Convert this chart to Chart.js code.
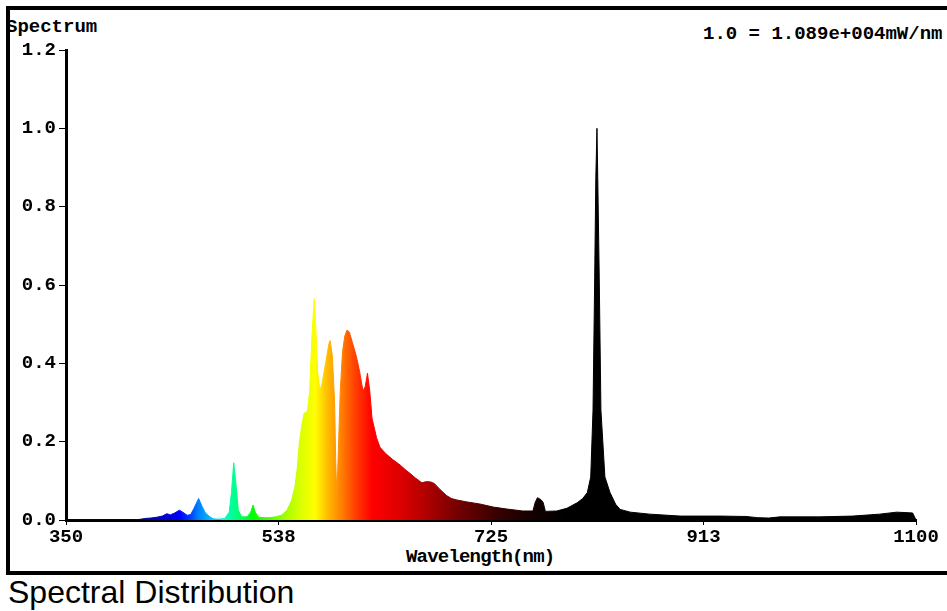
<!DOCTYPE html>
<html>
<head>
<meta charset="utf-8">
<script src="https://cdn.jsdelivr.net/npm/chart.js@4"></script>
<style>
  html, body { margin: 0; padding: 0; background: #fff; width: 947px; height: 611px; overflow: hidden; }
  #frame { position: absolute; left: 6px; top: 6px; width: 980px; height: 561px; border: 4px solid #000; z-index: 3; }
  canvas { position: absolute; left: 0; top: 0; z-index: 2; }
  .mono { position: absolute; font-family: "Liberation Mono", "DejaVu Sans Mono", monospace; font-weight: bold; font-size: 19px; line-height: 19px; color: #000; white-space: nowrap; z-index: 1; }
  #caption { position: absolute; left: 8px; top: 576px; font-family: "Liberation Sans", Arial, sans-serif; font-size: 32px; line-height: 32px; color: #000; white-space: nowrap; }
</style>
</head>
<body>
<div id="frame"></div>
<div class="mono" style="left:6px; top:18px;">Spectrum</div>
<div class="mono" style="left:703px; top:25px;">1.0 = 1.089e+004mW/nm</div>
<div class="mono" style="left:406px; top:548px; letter-spacing:-0.8px;">Wavelength(nm)</div>
<div id="caption">Spectral Distribution</div>
<canvas id="c" width="947" height="611"></canvas>
<script>
// Wavelength (nm) of each sample
const wavelengths = [350, 410, 416, 420, 425, 430, 435, 439, 442, 446, 450, 453, 457, 460, 463, 467, 470, 473, 477, 480, 485, 490, 494, 496, 498, 500, 502, 505, 510, 513, 515, 517, 520, 525, 530, 535, 540, 545, 549, 552, 554, 556, 558, 560, 563, 565, 567, 569, 570, 572, 574, 576, 579, 582, 583, 585, 587, 588, 589, 590, 592, 594, 596, 598, 600, 603, 606, 609, 612, 614, 616, 618, 620, 624, 627, 632, 638, 645, 650, 654, 658, 664, 668, 672, 675, 680, 686, 690, 695, 704, 715, 727, 739, 753, 762, 764, 766, 769, 771, 773, 783, 792, 801, 806, 810, 813, 815, 816.5, 817.5, 818.5, 819.2, 820.5, 822, 825.5, 830, 835, 839, 848, 865, 892, 927, 950, 960, 970, 980, 1015, 1044, 1068, 1083, 1097, 1100];
// Relative intensity (1.0 = 1.089e+004 mW/nm)
const intensities = [0, 0, 0.002, 0.004, 0.005, 0.007, 0.010, 0.016, 0.013, 0.018, 0.025, 0.020, 0.012, 0.014, 0.030, 0.055, 0.035, 0.018, 0.008, 0.003, 0.002, 0.004, 0.020, 0.070, 0.146, 0.090, 0.025, 0.008, 0.008, 0.020, 0.038, 0.020, 0.007, 0.006, 0.006, 0.008, 0.012, 0.025, 0.050, 0.085, 0.130, 0.200, 0.240, 0.272, 0.278, 0.330, 0.470, 0.565, 0.520, 0.380, 0.330, 0.350, 0.400, 0.450, 0.458, 0.420, 0.300, 0.150, 0.060, 0.150, 0.330, 0.430, 0.470, 0.485, 0.480, 0.450, 0.420, 0.380, 0.330, 0.340, 0.375, 0.330, 0.260, 0.210, 0.186, 0.170, 0.155, 0.140, 0.127, 0.118, 0.108, 0.095, 0.098, 0.097, 0.093, 0.078, 0.062, 0.055, 0.051, 0.046, 0.041, 0.033, 0.028, 0.023, 0.023, 0.045, 0.057, 0.052, 0.045, 0.022, 0.023, 0.030, 0.044, 0.055, 0.070, 0.110, 0.280, 0.620, 0.875, 1.000, 0.875, 0.620, 0.280, 0.110, 0.070, 0.040, 0.027, 0.020, 0.015, 0.010, 0.010, 0.009, 0.006, 0.005, 0.008, 0.008, 0.010, 0.015, 0.020, 0.018, 0];
// X tick values and Y tick values
const xTicks = [350, 537.5, 725, 912.5, 1100];
const yTicks = [0, 0.2, 0.4, 0.6, 0.8, 1.0, 1.2];
// Spectral colour stops (wavelength -> colour)
const colorWavelengths = [410, 430, 450, 460, 467, 478, 488, 498, 507, 515, 530, 543, 556, 570, 580, 593, 605, 620, 645, 660, 698, 730, 760, 790];
const colorValues = ['#000080', '#0000c0', '#0000ff', '#0040ff', '#0080ff', '#00c0ff', '#00ffd0', '#00ff90', '#00ff50', '#00ff00', '#50ff00', '#a0ff00', '#d8ff00', '#ffff00', '#ffc000', '#ff8000', '#ff4000', '#ff0000', '#dd0000', '#c00000', '#700000', '#380000', '#150000', '#000000'];

const points = wavelengths.map((w, i) => ({ x: w, y: intensities[i] }));

function spectrumGradient(context) {
  const chart = context.chart;
  const area = chart.chartArea;
  const xs = chart.scales.x;
  if (!area || !xs) return '#000';
  const g = chart.ctx.createLinearGradient(area.left, 0, area.right, 0);
  const span = area.right - area.left;
  colorWavelengths.forEach((w, i) => {
    const p = (xs.getPixelForValue(w) - area.left) / span;
    g.addColorStop(Math.min(1, Math.max(0, p)), colorValues[i]);
  });
  return g;
}

const monoFont = { family: '"Liberation Mono", "DejaVu Sans Mono", monospace', size: 19, weight: 'bold' };

new Chart(document.getElementById('c'), {
  type: 'line',
  data: {
    datasets: [{
      data: points,
      fill: 'origin',
      backgroundColor: spectrumGradient,
      borderColor: spectrumGradient,
      borderWidth: 1,
      pointRadius: 0,
      tension: 0
    }]
  },
  options: {
    responsive: false,
    animation: false,
    events: [],
    layout: { padding: { left: 0, top: 50, right: 31, bottom: 0 } },
    plugins: { legend: { display: false }, tooltip: { enabled: false }, title: { display: false } },
    scales: {
      x: {
        type: 'linear',
        min: 350,
        max: 1100,
        afterFit: s => { s.height = 91; },
        afterBuildTicks: s => { s.ticks = xTicks.map(v => ({ value: v })); },
        ticks: {
          color: '#000',
          font: monoFont,
          padding: 1,
          maxRotation: 0,
          autoSkip: false,
          callback: v => String(Math.round(v))
        },
        grid: { drawOnChartArea: false, drawTicks: true, tickLength: 5, color: '#000', lineWidth: 1 },
        border: { display: true, color: '#000', width: 3 }
      },
      y: {
        min: 0,
        max: 1.2,
        afterFit: s => { s.width = 66; },
        afterBuildTicks: s => { s.ticks = yTicks.map(v => ({ value: v })); },
        ticks: {
          color: '#000',
          font: monoFont,
          padding: 3,
          callback: v => Number(v).toFixed(1)
        },
        grid: { drawOnChartArea: false, drawTicks: true, tickLength: 7, color: '#000', lineWidth: 1 },
        border: { display: true, color: '#000', width: 3 }
      }
    }
  }
});
</script>
</body>
</html>
